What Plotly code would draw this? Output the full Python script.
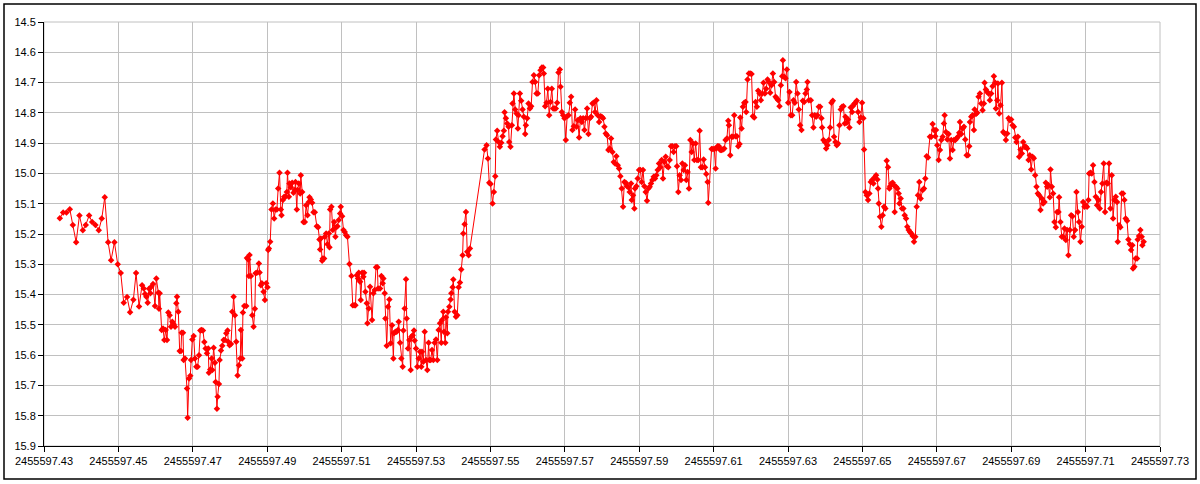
import plotly.graph_objects as go

JD_BASE = 2455597.0

# Day fraction (JD - 2455597) and magnitude in sections
t_a = [0.43425, 0.43515, 0.43604, 0.43694, 0.43774, 0.43864, 0.43953, 0.44043, 0.44123, 0.44213,
       0.44293, 0.44383, 0.44472, 0.44553, 0.44633, 0.44723, 0.44803, 0.44893, 0.44982, 0.45063,
       0.45144, 0.45233, 0.45314, 0.45403, 0.45475, 0.45555, 0.45636, 0.45681, 0.45716, 0.45752,
       0.45788, 0.45824, 0.45860]
m_a = [15.148, 15.129, 15.129, 15.118, 15.170, 15.227, 15.139, 15.188, 15.170, 15.139,
       15.160, 15.170, 15.188, 15.149, 15.079, 15.227, 15.287, 15.227, 15.300, 15.329,
       15.427, 15.408, 15.458, 15.417, 15.329, 15.439, 15.369, 15.380, 15.398, 15.407,
       15.427, 15.381, 15.396]

t_b = [0.45886, 0.45931, 0.45984, 0.46020, 0.46074, 0.46092, 0.46110, 0.46163, 0.46199, 0.46235,
       0.46271, 0.46307, 0.46342, 0.46378, 0.46414, 0.46450, 0.46486, 0.46521, 0.46557, 0.46575,
       0.46611, 0.46647, 0.46682, 0.46700, 0.46736, 0.46754, 0.46790, 0.46844, 0.46861, 0.46897,
       0.46933, 0.46951, 0.46987, 0.47023, 0.47058, 0.47094, 0.47130, 0.47166, 0.47202, 0.47237,
       0.47273, 0.47309, 0.47345, 0.47381, 0.47416, 0.47434, 0.47470, 0.47506, 0.47524, 0.47560,
       0.47595, 0.47613, 0.47649, 0.47667, 0.47703, 0.47721, 0.47756, 0.47792, 0.47828, 0.47864,
       0.47900, 0.47935, 0.47953, 0.47989, 0.48025, 0.48061, 0.48097, 0.48132, 0.48168, 0.48204,
       0.48240, 0.48276, 0.48293, 0.48329, 0.48347, 0.48383, 0.48437, 0.48455, 0.48490, 0.48508,
       0.48526, 0.48562, 0.48598, 0.48634, 0.48669, 0.48687, 0.48723, 0.48777, 0.48795, 0.48830]
m_b = [15.374, 15.365, 15.438, 15.347, 15.394, 15.447, 15.396, 15.517, 15.512, 15.550,
       15.517, 15.550, 15.459, 15.468, 15.506, 15.490, 15.498, 15.506, 15.429, 15.407,
       15.457, 15.586, 15.586, 15.526, 15.526, 15.616, 15.611, 15.710, 15.807, 15.677,
       15.668, 15.616, 15.548, 15.537, 15.611, 15.638, 15.638, 15.600, 15.519, 15.517,
       15.519, 15.557, 15.578, 15.594, 15.578, 15.658, 15.647, 15.611, 15.649, 15.576,
       15.625, 15.689, 15.777, 15.737, 15.695, 15.616, 15.585, 15.569, 15.550, 15.550,
       15.528, 15.519, 15.556, 15.567, 15.563, 15.457, 15.407, 15.468, 15.556, 15.667,
       15.633, 15.611, 15.517, 15.611, 15.459, 15.438, 15.438, 15.279, 15.284, 15.339,
       15.269, 15.339, 15.468, 15.506, 15.447, 15.330, 15.328, 15.297, 15.327, 15.369]

t_c = [0.48857, 0.48902, 0.48937, 0.48973, 0.49009, 0.49027, 0.49045, 0.49081, 0.49116, 0.49152,
       0.49188, 0.49224, 0.49260, 0.49295, 0.49331, 0.49367, 0.49385, 0.49421, 0.49456, 0.49492,
       0.49528, 0.49546, 0.49582, 0.49600, 0.49635, 0.49671, 0.49707, 0.49743, 0.49761, 0.49796,
       0.49814, 0.49850, 0.49886, 0.49904, 0.49940, 0.49975, 0.50011, 0.50047, 0.50083, 0.50119,
       0.50137, 0.50172, 0.50208, 0.50244, 0.50280, 0.50334, 0.50369, 0.50405, 0.50423, 0.50441,
       0.50477, 0.50495, 0.50530, 0.50548, 0.50584, 0.50620, 0.50656, 0.50674, 0.50692, 0.50727,
       0.50763, 0.50799, 0.50835, 0.50853, 0.50888, 0.50924, 0.50960, 0.50978, 0.51014, 0.51050,
       0.51085, 0.51121, 0.51157, 0.51211, 0.51264, 0.51300, 0.51336, 0.51372, 0.51408, 0.51443,
       0.51461, 0.51497, 0.51515, 0.51551, 0.51586, 0.51604, 0.51640, 0.51676, 0.51694, 0.51730,
       0.51765]
m_c = [15.363, 15.391, 15.418, 15.363, 15.376, 15.253, 15.248, 15.226, 15.119, 15.099,
       15.149, 15.119, 15.119, 15.050, 14.998, 15.119, 15.138, 15.088, 15.077, 15.077,
       15.061, 14.998, 15.077, 15.033, 15.046, 15.031, 15.064, 15.055, 15.028, 15.119,
       15.055, 15.033, 15.066, 15.006, 15.061, 15.160, 15.160, 15.105, 15.138, 15.094,
       15.079, 15.086, 15.097, 15.128, 15.128, 15.174, 15.178, 15.218, 15.251, 15.215,
       15.288, 15.281, 15.281, 15.209, 15.198, 15.234, 15.198, 15.244, 15.119, 15.110,
       15.187, 15.160, 15.209, 15.178, 15.174, 15.154, 15.132, 15.110, 15.141, 15.187,
       15.193, 15.204, 15.209, 15.299, 15.339, 15.435, 15.435, 15.435, 15.336, 15.347,
       15.328, 15.358, 15.418, 15.328, 15.341, 15.328, 15.391, 15.429, 15.495, 15.446,
       15.374]

t_d = [0.51819, 0.51855, 0.51890, 0.51926, 0.51962, 0.51980, 0.52034, 0.52069, 0.52105, 0.52123,
       0.52159, 0.52177, 0.52213, 0.52248, 0.52284, 0.52320, 0.52356, 0.52392, 0.52409, 0.52445,
       0.52481, 0.52517, 0.52535, 0.52571, 0.52606, 0.52642, 0.52660, 0.52696, 0.52732, 0.52750,
       0.52785, 0.52821, 0.52857, 0.52875, 0.52911, 0.52946, 0.52964, 0.53000, 0.53036, 0.53072,
       0.53108, 0.53143, 0.53161, 0.53197, 0.53233, 0.53269, 0.53304, 0.53340, 0.53358, 0.53394,
       0.53430, 0.53466, 0.53501, 0.53537, 0.53573, 0.53609, 0.53645, 0.53680, 0.53698, 0.53734,
       0.53752, 0.53788, 0.53806, 0.53841, 0.53859, 0.53895, 0.53931, 0.53949, 0.53985, 0.54003,
       0.54038, 0.54074, 0.54110, 0.54146, 0.54182, 0.54217, 0.54253, 0.54271, 0.54307, 0.54343,
       0.54378, 0.54414, 0.54450]
m_d = [15.484, 15.396, 15.385, 15.310, 15.310, 15.380, 15.380, 15.339, 15.363, 15.347,
       15.396, 15.479, 15.569, 15.440, 15.416, 15.561, 15.501, 15.611, 15.528, 15.523,
       15.523, 15.517, 15.490, 15.559, 15.611, 15.638, 15.519, 15.446, 15.349, 15.479,
       15.578, 15.550, 15.649, 15.539, 15.534, 15.519, 15.552, 15.578, 15.638, 15.611,
       15.589, 15.638, 15.589, 15.622, 15.523, 15.616, 15.649, 15.559, 15.616, 15.616,
       15.583, 15.616, 15.559, 15.548, 15.616, 15.517, 15.495, 15.559, 15.484, 15.457,
       15.523, 15.559, 15.475, 15.528, 15.457, 15.440, 15.416, 15.396, 15.376, 15.350,
       15.457, 15.473, 15.468, 15.376, 15.360, 15.317, 15.270, 15.198, 15.168, 15.127,
       15.259, 15.270, 15.248]

t_e = [0.54843, 0.54897, 0.54933, 0.54969, 0.55004, 0.55058, 0.55094, 0.55130, 0.55148, 0.55183,
       0.55219, 0.55255, 0.55291, 0.55327, 0.55362, 0.55380, 0.55416, 0.55452, 0.55488, 0.55506,
       0.55541, 0.55577, 0.55595, 0.55631, 0.55667, 0.55703, 0.55738, 0.55756, 0.55792, 0.55828,
       0.55864, 0.55899, 0.55935, 0.55953, 0.55989, 0.56025, 0.56061, 0.56096, 0.56132, 0.56168,
       0.56204, 0.56240, 0.56275, 0.56311, 0.56347, 0.56383, 0.56419, 0.56436, 0.56472, 0.56508,
       0.56544, 0.56580, 0.56615, 0.56651, 0.56687, 0.56723, 0.56759, 0.56794, 0.56830, 0.56866,
       0.56884, 0.56920, 0.56956, 0.56991, 0.57027, 0.57063, 0.57099, 0.57135, 0.57170, 0.57206,
       0.57242, 0.57278, 0.57314, 0.57349, 0.57385, 0.57421, 0.57457, 0.57493, 0.57528, 0.57564,
       0.57600, 0.57636, 0.57672]
m_e = [14.921, 14.907, 14.951, 15.031, 15.035, 15.099, 15.061, 15.009, 14.888, 14.859,
       14.896, 14.912, 14.899, 14.877, 14.859, 14.798, 14.818, 14.835, 14.846, 14.896,
       14.912, 14.841, 14.769, 14.736, 14.789, 14.802, 14.852, 14.808, 14.736, 14.760,
       14.789, 14.813, 14.870, 14.841, 14.818, 14.769, 14.786, 14.778, 14.698, 14.676,
       14.698, 14.736, 14.736, 14.676, 14.659, 14.650, 14.650, 14.670, 14.778, 14.767,
       14.720, 14.808, 14.764, 14.720, 14.786, 14.786, 14.786, 14.767, 14.667, 14.657,
       14.714, 14.797, 14.808, 14.818, 14.890, 14.811, 14.808, 14.767, 14.747, 14.857,
       14.844, 14.789, 14.846, 14.824, 14.881, 14.818, 14.830, 14.818, 14.857, 14.818,
       14.786, 14.870, 14.818]

t_f = [0.57707, 0.57743, 0.57778, 0.57814, 0.57850, 0.57886, 0.57922, 0.57957, 0.57993, 0.58029,
       0.58065, 0.58101, 0.58136, 0.58172, 0.58208, 0.58244, 0.58280, 0.58315, 0.58351, 0.58387,
       0.58423, 0.58459, 0.58494, 0.58530, 0.58566, 0.58602, 0.58638, 0.58673, 0.58709, 0.58745,
       0.58781, 0.58799, 0.58834, 0.58870, 0.58888, 0.58924, 0.58960, 0.58996, 0.59031, 0.59067,
       0.59103, 0.59139, 0.59175, 0.59210, 0.59246, 0.59282, 0.59318, 0.59354, 0.59389, 0.59425,
       0.59461, 0.59497, 0.59533, 0.59568, 0.59604, 0.59640, 0.59676, 0.59712, 0.59747, 0.59783,
       0.59819, 0.59855, 0.59891, 0.59926, 0.59962, 0.59998, 0.60016, 0.60052, 0.60087, 0.60123,
       0.60159, 0.60195, 0.60231, 0.60266, 0.60302, 0.60338, 0.60374, 0.60410, 0.60445, 0.60481,
       0.60517, 0.60553, 0.60589, 0.60624, 0.60660, 0.60696, 0.60732, 0.60768, 0.60803, 0.60839,
       0.60857]
m_f = [14.813, 14.769, 14.767, 14.797, 14.758, 14.808, 14.830, 14.811, 14.813, 14.818,
       14.846, 14.868, 14.874, 14.923, 14.918, 14.885, 14.929, 14.962, 14.967, 14.943,
       14.973, 14.984, 15.009, 15.050, 15.110, 15.028, 15.031, 15.042, 15.046, 15.061,
       15.033, 15.088, 15.072, 15.116, 15.050, 15.042, 15.017, 14.989, 14.989, 15.028,
       14.989, 15.042, 15.061, 15.090, 15.050, 15.044, 15.033, 15.022, 15.011, 15.017,
       15.006, 14.989, 14.967, 14.980, 14.956, 15.017, 14.962, 14.945, 14.976, 14.980,
       14.956, 14.910, 14.910, 14.929, 14.910, 14.910, 14.976, 15.061, 15.006, 15.022,
       14.967, 14.989, 14.973, 15.022, 14.995, 15.050, 14.890, 14.929, 14.901, 14.956,
       14.901, 14.956, 14.956, 14.859, 14.980, 14.980, 14.954, 14.980, 15.002, 15.028,
       15.097]

t_g = [0.60946, 0.60982, 0.61018, 0.61054, 0.61072, 0.61107, 0.61143, 0.61179, 0.61215, 0.61251,
       0.61286, 0.61322, 0.61358, 0.61394, 0.61412, 0.61447, 0.61483, 0.61519, 0.61555, 0.61591,
       0.61626, 0.61662, 0.61698, 0.61716, 0.61752, 0.61788, 0.61823, 0.61859, 0.61877, 0.61913,
       0.61949, 0.61984, 0.62020, 0.62056, 0.62092, 0.62128, 0.62163, 0.62199, 0.62235, 0.62271,
       0.62307, 0.62342, 0.62378, 0.62414, 0.62450, 0.62486, 0.62521, 0.62557, 0.62593, 0.62629,
       0.62665, 0.62700, 0.62736, 0.62772, 0.62808, 0.62844, 0.62862, 0.62897, 0.62933, 0.62969,
       0.63005, 0.63041, 0.63076, 0.63112, 0.63148, 0.63184, 0.63220, 0.63255, 0.63291, 0.63327,
       0.63363, 0.63399, 0.63434, 0.63470, 0.63506, 0.63524, 0.63560]
m_g = [14.919, 14.919, 14.919, 14.984, 14.918, 14.910, 14.910, 14.923, 14.923, 14.921,
       14.918, 14.890, 14.885, 14.826, 14.841, 14.940, 14.879, 14.879, 14.808, 14.877,
       14.877, 14.910, 14.903, 14.815, 14.852, 14.780, 14.767, 14.764, 14.797, 14.690,
       14.670, 14.670, 14.672, 14.811, 14.815, 14.764, 14.780, 14.727, 14.736, 14.758,
       14.736, 14.701, 14.736, 14.720, 14.690, 14.698, 14.734, 14.709, 14.670, 14.698,
       14.747, 14.753, 14.758, 14.778, 14.709, 14.679, 14.626, 14.681, 14.686, 14.657,
       14.767, 14.731, 14.808, 14.808, 14.758, 14.767, 14.698, 14.736, 14.789, 14.841,
       14.857, 14.760, 14.764, 14.736, 14.723, 14.698, 14.758]

t_h = [0.63613, 0.63649, 0.63684, 0.63720, 0.63756, 0.63792, 0.63828, 0.63863, 0.63899, 0.63917,
       0.63953, 0.63989, 0.64025, 0.64060, 0.64096, 0.64132, 0.64168, 0.64204, 0.64239, 0.64275,
       0.64311, 0.64347, 0.64383, 0.64418, 0.64454, 0.64490, 0.64526, 0.64544, 0.64579, 0.64615,
       0.64651, 0.64687, 0.64723, 0.64741, 0.64776, 0.64812, 0.64848, 0.64884, 0.64920, 0.64955,
       0.64991, 0.65027, 0.65045, 0.65081, 0.65116, 0.65152, 0.65188, 0.65224, 0.65260, 0.65295,
       0.65331, 0.65367, 0.65403, 0.65421, 0.65439, 0.65474, 0.65510, 0.65546, 0.65582, 0.65618,
       0.65653, 0.65689, 0.65725, 0.65743, 0.65779, 0.65815, 0.65850, 0.65868, 0.65904, 0.65940,
       0.65976, 0.65994, 0.66029, 0.66065, 0.66101, 0.66137, 0.66173, 0.66208, 0.66244, 0.66280,
       0.66316, 0.66352, 0.66387, 0.66423, 0.66459, 0.66495, 0.66530, 0.66566, 0.66620, 0.66656,
       0.66692, 0.66727, 0.66763]
m_h = [14.758, 14.808, 14.848, 14.808, 14.813, 14.808, 14.780, 14.780, 14.818, 14.848,
       14.890, 14.896, 14.918, 14.907, 14.890, 14.848, 14.767, 14.760, 14.879, 14.896,
       14.907, 14.901, 14.841, 14.789, 14.780, 14.778, 14.835, 14.813, 14.833, 14.822,
       14.848, 14.782, 14.797, 14.778, 14.771, 14.767, 14.760, 14.797, 14.830, 14.815,
       14.767, 14.818, 14.921, 15.061, 15.072, 15.088, 15.066, 15.028, 15.022, 15.033,
       15.013, 15.006, 15.020, 15.050, 15.099, 15.143, 15.176, 15.138, 15.110, 15.116,
       14.958, 14.980, 15.050, 15.042, 15.033, 15.031, 15.039, 15.127, 15.044, 15.050,
       15.066, 15.099, 15.083, 15.116, 15.116, 15.138, 15.149, 15.176, 15.187, 15.193,
       15.198, 15.207, 15.226, 15.209, 15.110, 15.072, 15.028, 15.083, 15.055, 15.050,
       15.017, 14.943, 14.947]

t_i = [0.66816, 0.66852, 0.66888, 0.66924, 0.66960, 0.66978, 0.67013, 0.67049, 0.67085, 0.67121,
       0.67157, 0.67192, 0.67210, 0.67246, 0.67282, 0.67318, 0.67353, 0.67389, 0.67425, 0.67461,
       0.67497, 0.67532, 0.67568, 0.67604, 0.67622, 0.67658, 0.67694, 0.67729, 0.67765, 0.67801,
       0.67837, 0.67873, 0.67890, 0.67926, 0.67962, 0.67998, 0.68016, 0.68052, 0.68087, 0.68123,
       0.68159, 0.68195, 0.68231, 0.68266, 0.68284, 0.68320, 0.68356, 0.68392, 0.68427, 0.68463,
       0.68499, 0.68535, 0.68571, 0.68589, 0.68624, 0.68642, 0.68678, 0.68714, 0.68750, 0.68786,
       0.68821, 0.68857, 0.68893, 0.68929, 0.68964, 0.69000, 0.69036, 0.69072, 0.69108, 0.69143,
       0.69179, 0.69215, 0.69251, 0.69287, 0.69322, 0.69358, 0.69394, 0.69430, 0.69466]
m_i = [14.879, 14.879, 14.837, 14.857, 14.877, 14.857, 14.907, 14.956, 14.923, 14.890,
       14.879, 14.835, 14.808, 14.863, 14.888, 14.870, 14.951, 14.890, 14.923, 14.890,
       14.890, 14.885, 14.879, 14.866, 14.830, 14.870, 14.852, 14.846, 14.888, 14.940,
       14.940, 14.910, 14.830, 14.813, 14.808, 14.857, 14.789, 14.804, 14.800, 14.747,
       14.736, 14.769, 14.791, 14.769, 14.701, 14.723, 14.731, 14.736, 14.758, 14.736,
       14.712, 14.679, 14.701, 14.786, 14.758, 14.703, 14.802, 14.775, 14.701, 14.863,
       14.868, 14.890, 14.868, 14.818, 14.824, 14.822, 14.841, 14.846, 14.881, 14.896,
       14.879, 14.945, 14.921, 14.934, 14.896, 14.912, 14.912, 14.918, 14.956]

t_j = [0.69501, 0.69537, 0.69573, 0.69608, 0.69644, 0.69680, 0.69716, 0.69752, 0.69787, 0.69823,
       0.69859, 0.69895, 0.69931, 0.69966, 0.70002, 0.70038, 0.70056, 0.70092, 0.70127, 0.70163,
       0.70199, 0.70235, 0.70271, 0.70289, 0.70324, 0.70360, 0.70396, 0.70432, 0.70468, 0.70503,
       0.70539, 0.70575, 0.70611, 0.70647, 0.70682, 0.70718, 0.70754, 0.70790, 0.70826, 0.70861,
       0.70897, 0.70933, 0.70969, 0.71005, 0.71040, 0.71076, 0.71094, 0.71130, 0.71166, 0.71201,
       0.71237, 0.71273, 0.71309, 0.71345, 0.71380, 0.71416, 0.71452, 0.71488, 0.71524, 0.71559,
       0.71595, 0.71631, 0.71667, 0.71703, 0.71738, 0.71774, 0.71810, 0.71846, 0.71864, 0.71899,
       0.71935, 0.71971, 0.72007, 0.72043, 0.72078, 0.72114, 0.72150, 0.72186, 0.72222, 0.72257,
       0.72275, 0.72311, 0.72347, 0.72383, 0.72401, 0.72436, 0.72472, 0.72508, 0.72526, 0.72562]
m_j = [14.940, 14.987, 14.945, 14.950, 15.006, 15.044, 15.066, 15.072, 15.121, 15.083,
       15.099, 15.094, 15.031, 15.044, 15.039, 15.079, 14.987, 15.044, 15.066, 15.160,
       15.178, 15.127, 15.127, 15.079, 15.160, 15.209, 15.209, 15.182, 15.220, 15.187,
       15.270, 15.187, 15.138, 15.141, 15.209, 15.187, 15.061, 15.127, 15.160, 15.226,
       15.176, 15.094, 15.110, 15.105, 15.110, 15.088, 15.000, 14.998, 15.000, 14.973,
       15.028, 15.077, 15.105, 15.088, 15.116, 15.061, 15.033, 14.967, 15.127, 15.031,
       15.033, 14.967, 15.116, 15.006, 15.149, 15.088, 15.077, 15.094, 15.226, 15.171,
       15.178, 15.066, 15.066, 15.088, 15.149, 15.156, 15.218, 15.233, 15.253, 15.237,
       15.314, 15.308, 15.281, 15.281, 15.218, 15.207, 15.187, 15.209, 15.237, 15.226]

day_frac = t_a + t_b + t_c + t_d + t_e + t_f + t_g + t_h + t_i + t_j
mag = m_a + m_b + m_c + m_d + m_e + m_f + m_g + m_h + m_i + m_j
jd = [JD_BASE + t for t in day_frac]

x_ticks = [2455597.43, 2455597.45, 2455597.47, 2455597.49, 2455597.51, 2455597.53,
           2455597.55, 2455597.57, 2455597.59, 2455597.61, 2455597.63, 2455597.65,
           2455597.67, 2455597.69, 2455597.71, 2455597.73]
x_labels = ["%.2f" % v for v in x_ticks]
y_ticks = [14.5, 14.6, 14.7, 14.8, 14.9, 15.0, 15.1, 15.2, 15.3, 15.4, 15.5, 15.6, 15.7, 15.8, 15.9]
y_labels = ["%.1f" % v for v in y_ticks]

fig = go.Figure()
fig.add_trace(go.Scatter(
    x=jd, y=mag, mode="lines+markers",
    line=dict(color="#FF0000", width=1),
    marker=dict(symbol="diamond", size=5, color="#FF0000", line=dict(width=0)),
    showlegend=False, hoverinfo="x+y",
))

grid = "#C0C0C0"
fig.update_layout(
    width=1200, height=484,
    margin=dict(l=44, r=40, t=22, b=38),
    paper_bgcolor="white", plot_bgcolor="white",
    font=dict(family="Liberation Sans, Arial, sans-serif", size=11, color="black"),
    xaxis=dict(
        range=[2455597.43, 2455597.73], tickmode="array", tickvals=x_ticks, ticktext=x_labels,
        showgrid=True, gridcolor=grid, gridwidth=1, zeroline=False,
        showline=True, linecolor="black", linewidth=1,
        ticks="outside", ticklen=5, tickcolor="black",
    ),
    yaxis=dict(
        range=[15.9, 14.5], tickmode="array", tickvals=y_ticks, ticktext=y_labels,
        showgrid=True, gridcolor=grid, gridwidth=1, zeroline=False,
        showline=True, linecolor="black", linewidth=1,
        ticks="outside", ticklen=5, tickcolor="black",
    ),
    shapes=[
        dict(type="rect", xref="paper", yref="paper", x0=0, x1=1, y0=0, y1=1,
             line=dict(color=grid, width=1), layer="below"),
        dict(type="rect", xref="paper", yref="paper",
             x0=(4 - 44) / 1116, x1=(1196 - 44) / 1116,
             y0=(446 - 479) / 424, y1=(446 - 4) / 424,
             line=dict(color="black", width=1.5), layer="below"),
    ],
)

fig.write_html("out.html", config={"displayModeBar": False},
               post_script="document.body.style.margin='0';document.body.style.padding='0';")
